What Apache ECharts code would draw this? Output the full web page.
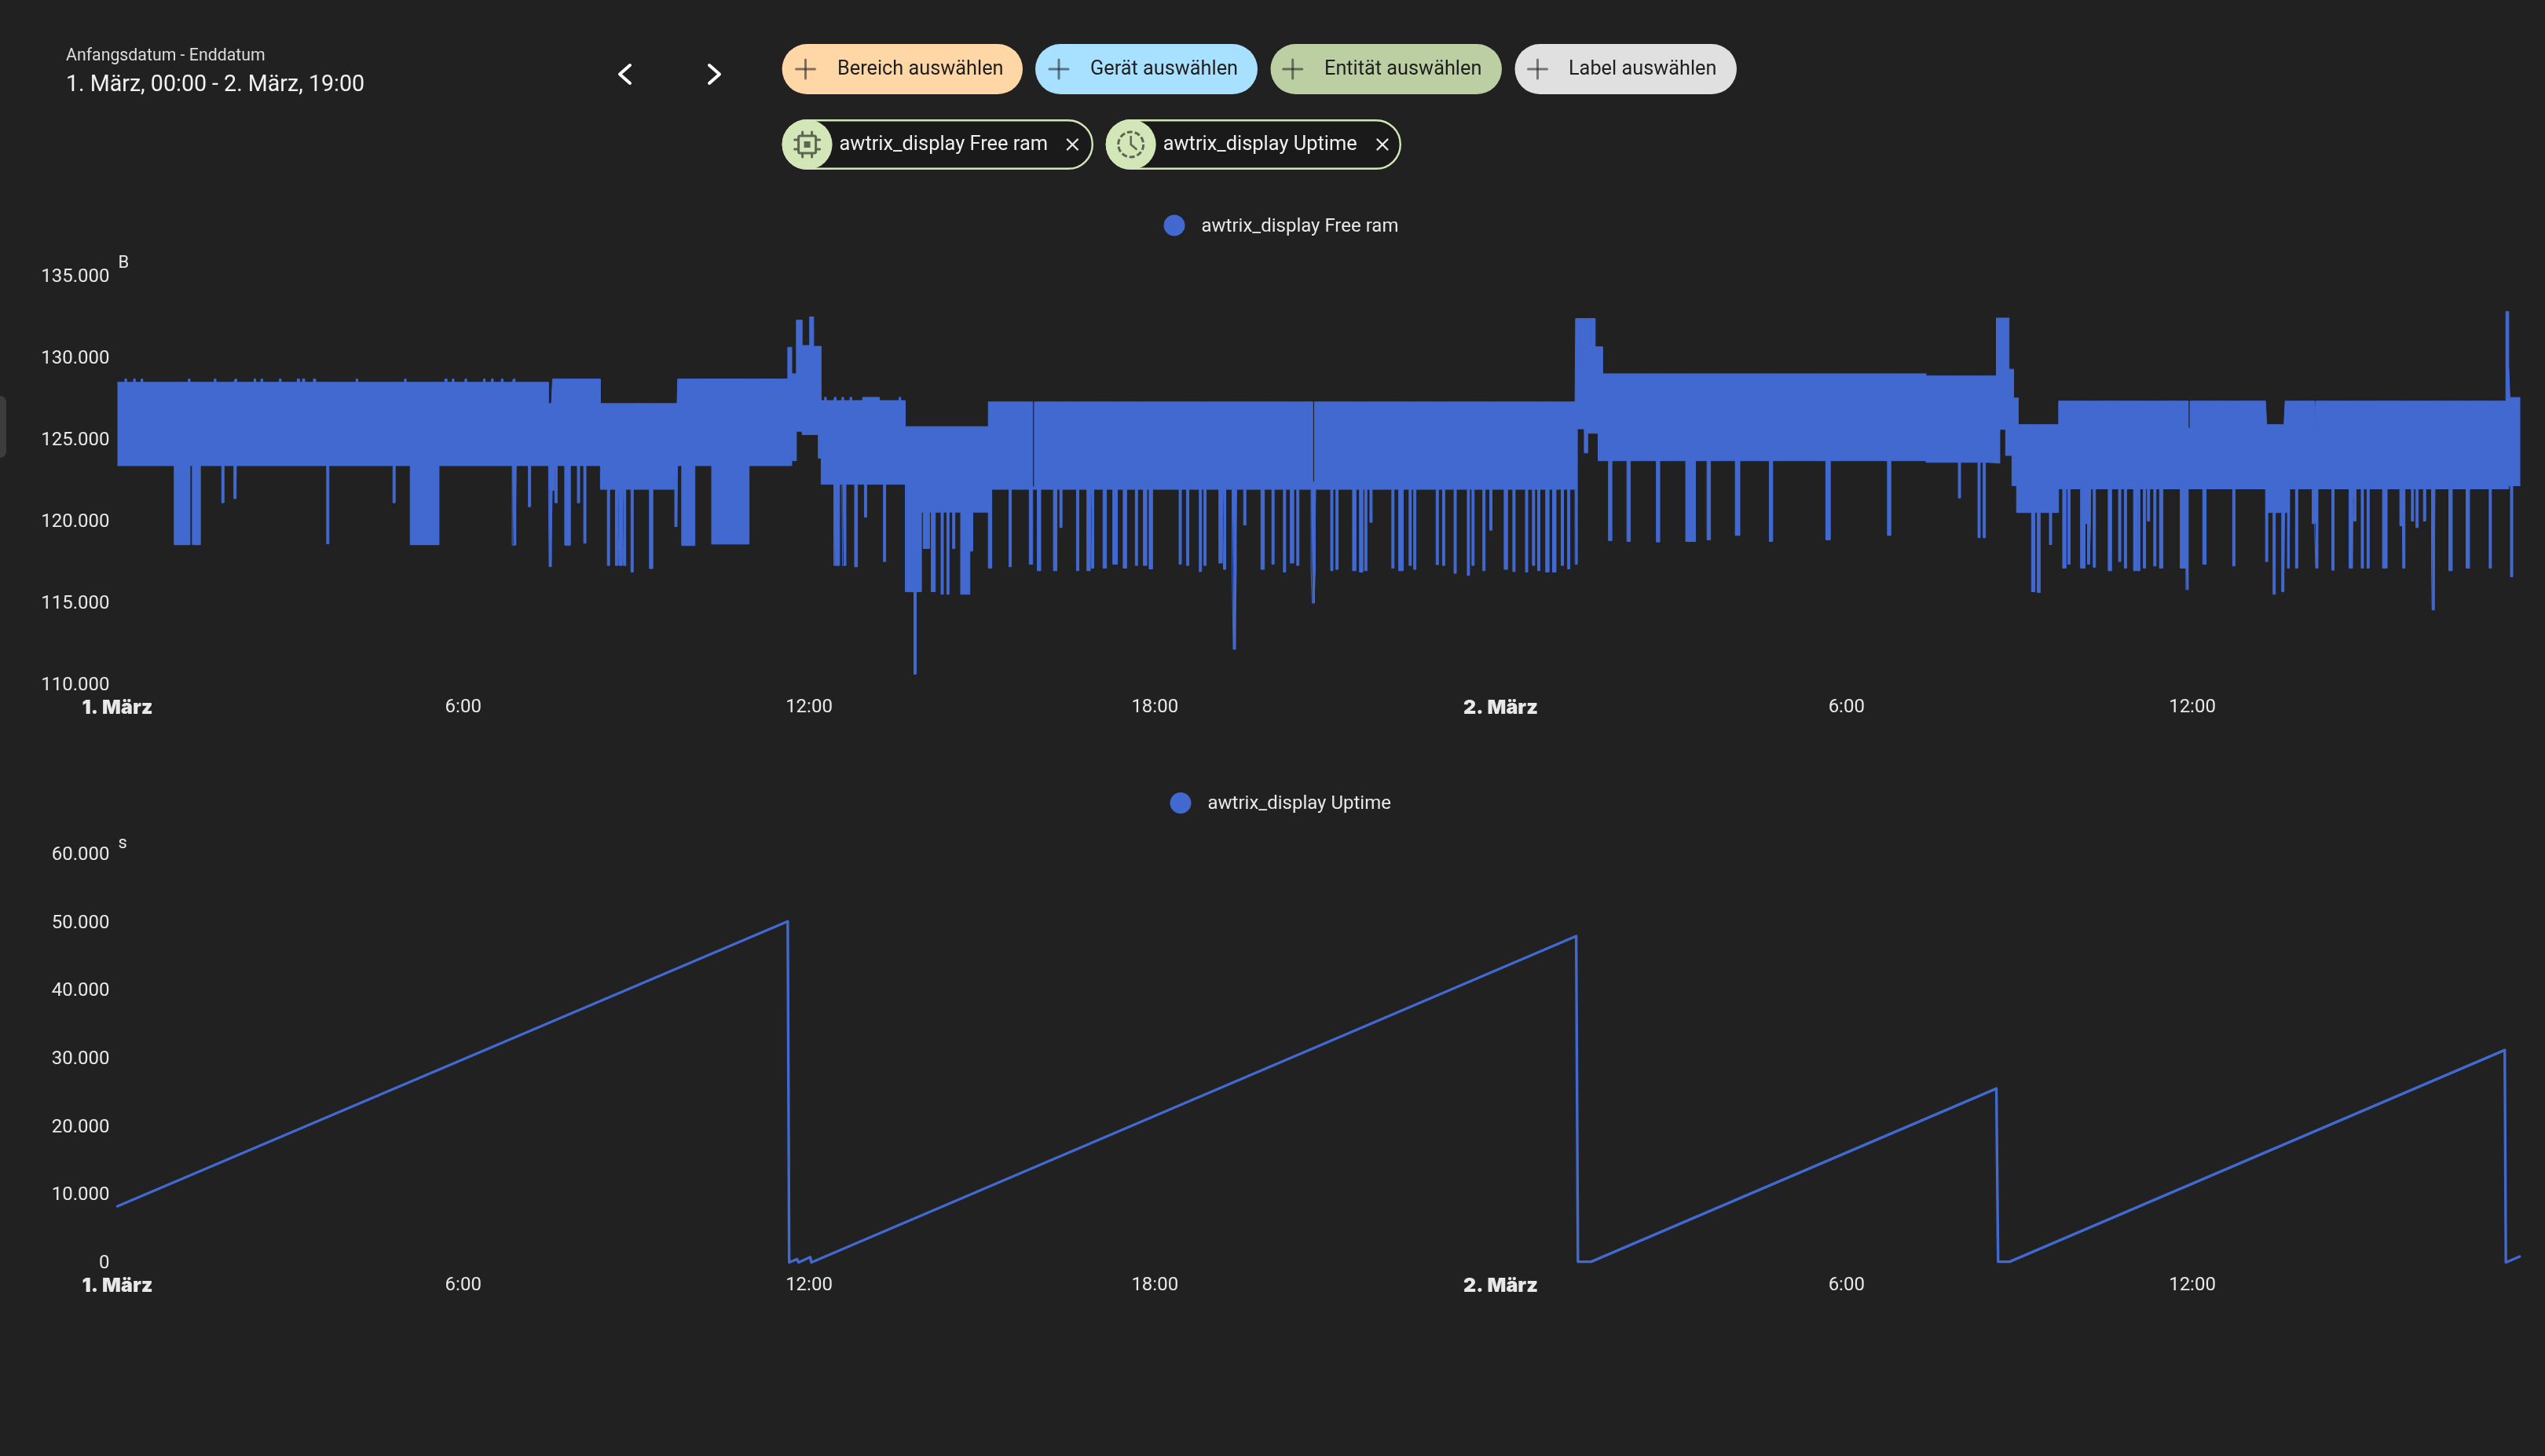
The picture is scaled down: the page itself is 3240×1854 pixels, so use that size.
<!DOCTYPE html>
<html>
<head>
<meta charset="utf-8">
<title>awtrix_display</title>
<style>html,body{margin:0;padding:0;background:#212121}#chart{width:3240px;height:1854px}</style>
<script src="https://cdn.jsdelivr.net/npm/echarts@6/dist/echarts.min.js"></script>
</head>
<body>
<div id="chart"></div>
<script>
// ---- text ----
const rangeCaption = 'Anfangsdatum - Enddatum';
const rangeValue = '1. März, 00:00 - 2. März, 19:00';
const pickerLabels = ['Bereich auswählen', 'Gerät auswählen', 'Entität auswählen', 'Label auswählen'];
const ramName = 'awtrix_display Free ram';
const uptimeName = 'awtrix_display Uptime';
const xTickHours = [0, 6, 12, 18, 24, 30, 36];
const xTickLabels = ['1. März', '6:00', '12:00', '18:00', '2. März', '6:00', '12:00'];
const ramYLabels = ['110.000', '115.000', '120.000', '125.000', '130.000', '135.000'];
const uptimeYLabels = ['0', '10.000', '20.000', '30.000', '40.000', '50.000', '60.000'];

// ---- Free ram: envelope of the dense oscillation (hours since 1. März 00:00, bytes) ----
const ramStartHour = [0, 7.48, 7.55, 8.38, 9.72, 11.63, 11.70, 11.78, 11.88, 12.01, 12.08, 12.16, 12.21, 13.67, 15.11, 25.30, 25.45, 25.51, 25.64, 25.69, 25.77, 31.38, 32.60, 32.66, 32.76, 32.82, 32.87, 32.90, 32.95, 32.98, 33.68, 37.29, 37.61, 37.68, 41.44, 41.49, 41.51];
const ramUpper = [128500, 127200, 128700, 127200, 128700, 130640, 129020, 132300, 130750, 132500, 130700, 130700, 127380, 125790, 127300, 132400, 132400, 132400, 130670, 130670, 129020, 128890, 132430, 132430, 132430, 129300, 129300, 127540, 127540, 125910, 127350, 125910, 127350, 127350, 132830, 129540, 127570];
const ramLower = [123400, 123400, 123400, 121950, 123400, 123400, 123700, 125500, 125300, 125300, 125300, 123860, 122260, 120550, 121950, 125650, 124180, 125380, 125380, 123700, 123700, 123600, 123540, 125620, 124020, 124020, 122170, 122170, 120530, 120530, 121980, 120530, 120530, 121980, 121980, 122170, 122170];
const ramEndHour = 41.69;
// downward excursions: [from hour, to hour, lowest bytes]
const ramDips = [
  [0.985,1.26,118560],[1.30,1.44,118560],[1.81,1.85,121130],[2.02,2.06,121380],[3.63,3.67,118620],[4.78,4.82,121130],[5.08,5.58,118560],[6.85,6.92,118530],[7.13,7.17,120880],
  [7.48,7.58,121890],[7.49,7.53,117220],[7.59,7.63,121130],[7.76,7.86,118530],[7.98,8.02,121130],[8.09,8.13,118660],[8.50,8.54,117290],[8.64,8.68,117290],[8.70,8.76,117290],[8.78,8.82,117290],[8.91,8.95,116890],[9.23,9.29,117100],[9.67,9.71,119670],
  [9.79,10.02,118510],[10.31,10.96,118600],
  [12.43,12.53,117290],[12.58,12.64,117290],[12.79,12.84,117210],[12.96,13.00,120250],[13.29,13.33,117530],
  [13.67,13.95,115690],[13.82,13.86,110640],[13.98,14.09,118330],[14.12,14.19,115690],[14.29,14.33,115530],[14.39,14.43,115530],[14.49,14.53,118330],[14.63,14.79,115530],[14.79,14.84,118170],[15.11,15.17,117130],
  [15.47,15.51,117210],[15.82,15.88,117370],[15.96,16.02,116970],[16.24,16.30,116970],[16.35,16.39,119610],[16.64,16.68,116970],[16.82,16.88,116970],[16.90,16.94,117130],[17.10,17.16,117130],[17.27,17.35,117370],[17.45,17.51,117130],[17.66,17.70,117290],[17.80,17.86,117290],[17.90,17.96,117080],
  [18.42,18.46,117370],[18.55,18.59,117290],[18.77,18.81,116920],[18.85,18.89,117290],[19.11,19.17,117440],[19.19,19.23,117050],[19.34,19.42,117050],[19.36,19.40,112160],[19.54,19.58,119770],[19.84,19.90,117050],[20.03,20.07,117370],[20.23,20.27,116890],[20.35,20.41,117440],[20.46,20.50,117290],
  [20.71,20.79,117050],[20.73,20.77,114990],[21.05,21.09,116970],[21.14,21.18,117050],[21.43,21.49,116970],[21.55,21.61,116890],[21.64,21.68,116970],[21.73,21.77,119930],[22.11,22.15,117130],[22.23,22.31,116970],[22.41,22.45,117290],[22.49,22.53,117050],[22.88,22.92,117340],[22.99,23.03,117290],[23.19,23.23,116810],[23.42,23.46,116680],[23.50,23.54,117290],[23.69,23.73,116970],[23.81,23.85,119450],
  [24.06,24.12,117050],[24.21,24.25,116920],[24.43,24.47,116890],[24.55,24.59,117290],[24.64,24.68,116970],[24.78,24.84,116890],[24.90,24.96,116890],[25.05,25.09,117290],[25.16,25.20,117080],[25.29,25.33,117370],
  [25.87,25.93,118810],[26.19,26.25,118760],[26.70,26.76,118730],[27.21,27.38,118760],[27.58,27.64,118860],[28.07,28.15,119130],[28.66,28.72,118760],[29.64,29.72,118860],[30.71,30.77,119130],[31.94,31.98,121420],[32.28,32.32,118990],[32.37,32.41,118990],
  [33.21,33.27,115690],[33.31,33.36,115640],[33.52,33.56,118570],
  [33.75,33.81,117130],[33.84,33.88,117370],[34.06,34.14,117130],[34.14,34.24,119850],[34.18,34.22,117370],[34.28,34.32,117180],[34.54,34.60,116970],[34.72,34.76,117530],[34.82,34.86,117130],[34.98,35.04,116970],[35.05,35.09,116970],[35.15,35.19,117130],[35.22,35.26,120010],[35.33,35.37,117260],[35.43,35.49,117130],[35.79,35.90,117130],[35.89,35.93,115815],[36.18,36.24,117370],[36.70,36.74,117260],
  [37.27,37.31,117530],[37.40,37.44,115530],[37.55,37.59,115690],[37.65,37.69,117130],[37.79,37.83,117130],[38.08,38.16,119850],[38.14,38.18,117130],[38.42,38.46,117000],[38.72,38.78,117130],[38.80,38.84,120010],[38.93,38.97,117130],[39.03,39.07,117130],[39.30,39.38,117130],[39.60,39.64,119720],[39.65,39.69,117130],[39.80,39.84,120010],[39.88,39.92,119610],[40.01,40.05,120010],[40.15,40.21,117130],[40.16,40.20,114570],[40.45,40.51,116970],[40.75,40.81,117130],[41.15,41.19,117130],[41.52,41.56,116600]
];
// small changes of the upper edge: [from hour, to hour, upper bytes]
const ramTopMarks = [
  [0.13,0.16,128700],[0.28,0.31,128700],[0.41,0.44,128700],[1.23,1.26,128700],[1.68,1.71,128700],[2.04,2.07,128700],[2.37,2.40,128700],[2.49,2.52,128700],[2.81,2.84,128700],[3.12,3.16,128700],[3.21,3.25,128700],[3.40,3.44,128700],[4.14,4.17,128700],[4.98,5.01,128700],[5.68,5.72,128700],[5.81,5.84,128700],[6.03,6.06,128700],[6.35,6.38,128700],[6.49,6.52,128700],[6.66,6.69,128700],[6.87,6.90,128700],
  [12.27,12.30,127580],[12.44,12.47,127580],[12.57,12.60,127580],[12.71,12.74,127580],[12.93,13.22,127580],[13.56,13.59,127580],
  [15.88,15.91,122100],[20.74,20.77,122400],[35.93,35.96,125700],[38.12,38.14,125900]
];

// ---- Uptime: [hours, seconds] ----
const uptimeHours = [0, 11.63, 11.655, 11.79, 11.82, 12.02, 12.04, 25.31, 25.34, 25.57, 32.60, 32.63, 32.83, 41.42, 41.44, 41.68];
const uptimeSeconds = [8250, 50100, 0, 480, 0, 780, 0, 47940, 100, 100, 25550, 100, 100, 31200, 0, 860];

// ---- time base: hours since 1. März 00:00 on a time axis ----
const T0 = Date.UTC(2025, 2, 1);
const HOUR = 3600000;
const toTime = h => T0 + h * HOUR;
const xMax = 41.71;

// ---- build the stepped envelope from the readings ----
const cuts = [...new Set([...ramStartHour, ramEndHour,
  ...ramDips.flatMap(d => [d[0], d[1]]), ...ramTopMarks.flatMap(d => [d[0], d[1]])])]
  .filter(h => h <= ramEndHour).sort((a, b) => a - b);
const ramLowData = [], ramBandData = [];
for (let i = 0; i < cuts.length - 1; i++) {
  const a = cuts[i], b = cuts[i + 1];
  let s = 0;
  ramStartHour.forEach((h, k) => { if (h <= a) s = k; });
  let lo = ramLower[s], hi = ramUpper[s];
  ramDips.forEach(d => { if (d[0] <= a && d[1] >= b) lo = Math.min(lo, d[2]); });
  ramTopMarks.forEach(d => { if (d[0] <= a && d[1] >= b) hi = d[2]; });
  ramLowData.push([toTime(a), lo], [toTime(b), lo]);
  ramBandData.push([toTime(a), hi - lo], [toTime(b), hi - lo]);
}
const uptimeData = uptimeHours.map((h, i) => [toTime(h), uptimeSeconds[i]]);

const FONT = 'Roboto';
const BLUE = '#4269d0';
const TXT = '#e8e8e8';
const G0 = { left: 149.5, right: 3240 - 3210, top: 351.5, height: 520.3 };
const G1 = { left: 149.5, right: 3240 - 3210, top: 1087.5, height: 520 };

function xAxis(gridIndex) {
  return {
    type: 'time', gridIndex, min: toTime(0), max: toTime(xMax),
    minInterval: 7 * HOUR, maxInterval: 7 * HOUR,
    axisLine: { show: false }, axisTick: { show: false }, splitLine: { show: false },
    axisLabel: {
      margin: 17, color: TXT, fontFamily: FONT, fontSize: 24,
      hideOverlap: false, showMinLabel: true, showMaxLabel: false,
      formatter: v => {
        const l = xTickLabels[xTickHours.indexOf((v - T0) / HOUR)] || '';
        return l.includes('März') ? '{b|' + l + '}' : l;
      },
      rich: { b: { fontFamily: 'Inter', fontWeight: 900, fontSize: 25, color: TXT } }
    }
  };
}
function yAxis(gridIndex, min, max, interval, labels, name, gap) {
  return {
    type: 'value', gridIndex, min, max, interval,
    name, nameLocation: 'end', nameGap: gap,
    nameTextStyle: { color: TXT, fontFamily: FONT, fontSize: 22, align: 'left', padding: [0, 0, 0, 1] },
    axisLine: { show: false }, axisTick: { show: false }, splitLine: { show: false },
    axisLabel: {
      margin: 10, formatter: v => '{a|' + labels[Math.round((v - min) / interval)] + '}',
      rich: { a: { color: TXT, fontFamily: FONT, fontSize: 24, padding: [3, 0, 0, 0] } }
    }
  };
}
function legend(name, left, top) {
  return {
    data: [name], left, top, icon: 'circle', itemWidth: 27, itemHeight: 27, padding: 0,
    selectedMode: false,
    formatter: n => '{a|' + n + '}',
    textStyle: { rich: { a: { color: TXT, fontFamily: FONT, fontSize: 24, padding: [3, 0, 0, 16] } } }
  };
}

// ---- page header drawn as graphics ----
const g = [];
const text = (t, x, y, fill, size, weight) => g.push({ type: 'text', silent: true, style: { text: t, x, y, fill, fontFamily: FONT, fontSize: size, fontWeight: weight || 400, verticalAlign: 'middle' } });
const poly = (pts, stroke, w) => g.push({ type: 'polyline', silent: true, shape: { points: pts }, style: { stroke, lineWidth: w, fill: null, lineCap: 'round', lineJoin: 'round' } });

g.push({ type: 'rect', silent: true, shape: { x: -8, y: 504, width: 16, height: 79, r: 8 }, style: { fill: '#3d3d3d' } });
text(rangeCaption, 84, 72, '#dcdcdc', 21.3);
text(rangeValue, 84, 109, '#f2f2f2', 28.6);
poly([[802, 83], [789, 94.5], [802, 106]], '#ffffff', 4);
poly([[903, 83], [916, 94.5], [903, 106]], '#ffffff', 4);

const pills = [
  { x: 995.6, w: 306.4, fill: '#ffd6a5', plus: 1025.5, tx: 1066 },
  { x: 1318, w: 283, fill: '#a8e1ff', plus: 1348, tx: 1388 },
  { x: 1617.5, w: 294.5, fill: '#bccfa3', plus: 1645.7, tx: 1686 },
  { x: 1928.5, w: 282.5, fill: '#e0e0e0', plus: 1957.5, tx: 1997 }
];
pills.forEach((p, i) => {
  g.push({ type: 'rect', silent: true, shape: { x: p.x, y: 56, width: p.w, height: 64, r: 32 }, style: { fill: p.fill } });
  poly([[p.plus - 12, 88], [p.plus + 12, 88]], 'rgba(30,30,30,0.55)', 3);
  poly([[p.plus, 76], [p.plus, 100]], 'rgba(30,30,30,0.55)', 3);
  text(pickerLabels[i], p.tx, 89, '#1f1f1f', 25.3);
});
const chips = [
  { x: 995.6, w: 396.4, tx: 1068.5, close: 1365.4, label: ramName },
  { x: 1407.7, w: 376.3, tx: 1480.7, close: 1760, label: uptimeName }
];
chips.forEach(c => {
  g.push({ type: 'rect', silent: true, shape: { x: c.x + 1.2, y: 153.2, width: c.w - 2.4, height: 61.6, r: 30.8 }, style: { fill: '#1a1a1a', stroke: '#d3e6b8', lineWidth: 2.4 } });
  g.push({ type: 'circle', silent: true, shape: { cx: c.x + 32, cy: 184, r: 32 }, style: { fill: '#d3e6b8' } });
  text(c.label, c.tx, 185, '#f0f0f0', 25.4);
  poly([[c.close - 6.5, 177.5], [c.close + 6.5, 190.5]], '#e8e8e8', 2.4);
  poly([[c.close + 6.5, 177.5], [c.close - 6.5, 190.5]], '#e8e8e8', 2.4);
});
const ICON = '#5d6650';
// chip icon
{
  const cx = 1027.6, cy = 184;
  g.push({ type: 'rect', silent: true, shape: { x: cx - 11, y: cy - 11, width: 22, height: 22, r: 2 }, style: { fill: null, stroke: ICON, lineWidth: 3 } });
  g.push({ type: 'rect', silent: true, shape: { x: cx - 4, y: cy - 4, width: 8, height: 8 }, style: { fill: ICON } });
  [-6, 6].forEach(d => {
    poly([[cx + d, cy - 16], [cx + d, cy - 12]], ICON, 3);
    poly([[cx + d, cy + 12], [cx + d, cy + 16]], ICON, 3);
    poly([[cx - 16, cy + d], [cx - 12, cy + d]], ICON, 3);
    poly([[cx + 12, cy + d], [cx + 16, cy + d]], ICON, 3);
  });
}
// clock icon
{
  const cx = 1439.7, cy = 184;
  g.push({ type: 'circle', silent: true, shape: { cx, cy, r: 16 }, style: { fill: null, stroke: ICON, lineWidth: 3, lineDash: [7, 3] } });
  poly([[cx, cy - 10], [cx, cy], [cx + 7, cy + 6]], ICON, 2.5);
}

const chart = echarts.init(document.getElementById('chart'), null, { renderer: 'canvas' });
chart.setOption({
  animation: false,
  backgroundColor: '#212121',
  useUTC: true,
  textStyle: { fontFamily: FONT },
  grid: [G0, G1],
  legend: [legend(ramName, 1481.5, 273.5), legend(uptimeName, 1489.5, 1009)],
  xAxis: [xAxis(0), xAxis(1)],
  yAxis: [
    yAxis(0, 110000, 135000, 5000, ramYLabels, 'B', 5),
    yAxis(1, 0, 60000, 10000, uptimeYLabels, 's', 2)
  ],
  series: [
    { name: ramName + ' min', type: 'line', xAxisIndex: 0, yAxisIndex: 0, stack: 'ram', data: ramLowData, showSymbol: false, lineStyle: { width: 1, color: BLUE }, silent: true, itemStyle: { color: BLUE } },
    { name: ramName, type: 'line', xAxisIndex: 0, yAxisIndex: 0, stack: 'ram', data: ramBandData, showSymbol: false, lineStyle: { width: 1, color: BLUE }, areaStyle: { color: BLUE, opacity: 1 }, silent: true, itemStyle: { color: BLUE } },
    { name: uptimeName, type: 'line', xAxisIndex: 1, yAxisIndex: 1, data: uptimeData, showSymbol: false, lineStyle: { width: 3.4, color: BLUE, join: 'round', cap: 'round' }, itemStyle: { color: BLUE }, silent: true }
  ],
  graphic: { elements: g }
});
</script>
</body>
</html>
